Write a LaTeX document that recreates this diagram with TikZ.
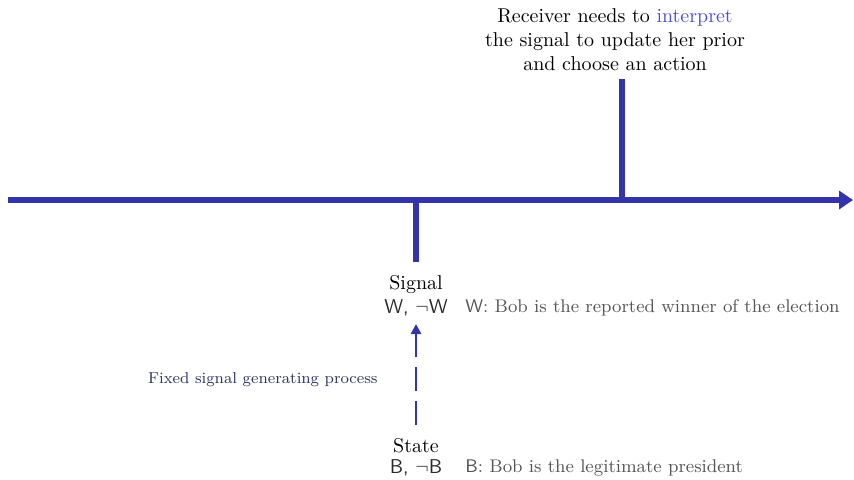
\documentclass[tikz,border=0pt]{standalone}
\usetikzlibrary{arrows.meta}
\definecolor{axisblue}{RGB}{51,51,170}
\definecolor{lightblue}{RGB}{80,80,200}
\definecolor{navy}{RGB}{50,50,100}
\definecolor{greytext}{RGB}{85,85,85}
\definecolor{darktext}{RGB}{40,40,40}
\tikzset{
  axisline/.style={draw=axisblue, line width=3pt},
  lbl/.style={inner sep=0pt, font=\normalsize},
  desc/.style={inner sep=0pt, anchor=west, text=greytext, font=\fontsize{9.15}{11}\selectfont},
}
\begin{document}
\begin{tikzpicture}[x=0.5pt,y=-0.5pt]
\useasboundingbox (0,0) rectangle (854,479);
% axis
\coordinate (axL) at (8,200);
\coordinate (axR) at (853,200);
\draw[axisline, -{Triangle[length=7pt,width=9pt]}] (axL) -- (axR);
% ticks
\coordinate (t1top) at (416,200);
\coordinate (t1bot) at (416,262);
\draw[axisline] (t1top) -- (t1bot);
\coordinate (t2top) at (622,79);
\coordinate (t2bot) at (622,200);
\draw[axisline] (t2top) -- (t2bot);
% receiver text
\node[lbl, align=center, anchor=north] (recv) at (615,8) {Receiver needs to \textcolor{lightblue}{interpret}\\the signal to update her prior\\and choose an action};
% signal
\node[lbl] (sig) at (416,284) {Signal};
\node[lbl, text=darktext] (sigv) at (416,308) {\textsf{W, $\neg$W}};
\node[desc] (sigd) at (465,308) {\textsf{W}: Bob is the reported winner of the election};
% state
\node[lbl] (st) at (416,446) {State};
\node[lbl, text=darktext] (stv) at (416,468) {\textsf{B, $\neg$B}};
\node[desc] (std) at (465,468) {\textsf{B}: Bob is the legitimate president};
% process arrow
\coordinate (pa) at (416,425);
\coordinate (pb) at (416,324);
\draw[draw=axisblue, line width=1.4pt, dash pattern=on 12pt off 5pt, -{Triangle[length=5pt,width=5pt]}] (pa) -- (pb);
\node[inner sep=0pt, anchor=east, text=navy, font=\fontsize{7.9}{10}\selectfont] (proc) at (378,380) {Fixed signal generating process};
\end{tikzpicture}
\end{document}
